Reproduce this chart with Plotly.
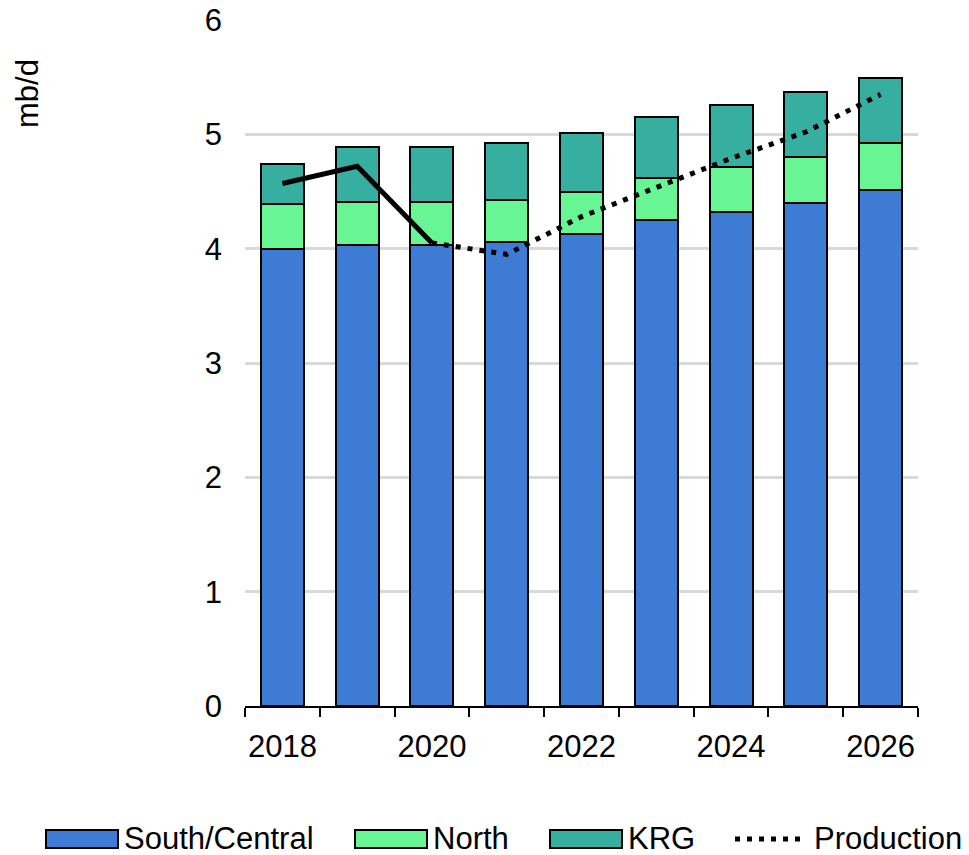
import plotly.graph_objects as go

# ---- data ----
years = [2018, 2019, 2020, 2021, 2022, 2023, 2024, 2025, 2026]
south_central = [4.00, 4.03, 4.03, 4.06, 4.13, 4.25, 4.32, 4.40, 4.51]
north = [0.39, 0.38, 0.38, 0.37, 0.37, 0.37, 0.39, 0.40, 0.41]
krg = [0.35, 0.48, 0.48, 0.49, 0.51, 0.53, 0.55, 0.57, 0.57]
production = [4.57, 4.72, 4.05, 3.95, 4.28, 4.53, 4.79, 5.02, 5.35]
actual_last_index = 2  # production is actual up to 2020, forecast afterwards
tick_years = [2018, 2020, 2022, 2024, 2026]
y_ticks = [0, 1, 2, 3, 4, 5, 6]

series_names = ["South/Central", "North", "KRG", "Production"]
colors = ["#3E7BD5", "#68F594", "#37AFA0"]

FONT = "Liberation Sans, Arial, sans-serif"
FS = 31

fig = go.Figure()
for name, vals, col in zip(series_names[:3], [south_central, north, krg], colors):
    fig.add_trace(go.Bar(
        x=years, y=vals, name=name, width=0.575,
        marker=dict(color=col, line=dict(color="black", width=2)),
        showlegend=False,
    ))

fig.add_trace(go.Scatter(
    x=years[:actual_last_index + 1], y=production[:actual_last_index + 1],
    mode="lines", line=dict(color="black", width=5), showlegend=False,
    name="Production (actual)",
))
fig.add_trace(go.Scatter(
    x=years[actual_last_index:], y=production[actual_last_index:],
    mode="lines", line=dict(color="black", width=5, dash="5px,7px"),
    showlegend=False, name=series_names[3],
))

# plot area geometry in pixels (for converting legend placement)
L, R, T, B = 245, 918, 20, 706
W, H = R - L, B - T


def px(x):
    return (x - L) / W


def py(y):
    return (B - y) / H


shapes = []
annotations = []
legend_y = 839
swatch_x = [46, 355, 550]
for i, (name, col) in enumerate(zip(series_names[:3], colors)):
    x0 = swatch_x[i]
    shapes.append(dict(type="rect", xref="paper", yref="paper",
                       x0=px(x0), x1=px(x0 + 72), y0=py(legend_y + 9), y1=py(legend_y - 9),
                       fillcolor=col, line=dict(color="black", width=2)))
    annotations.append(dict(text=name, xref="paper", yref="paper",
                            x=px(x0 + 76), y=py(legend_y), xanchor="left", yanchor="middle",
                            showarrow=False, font=dict(family=FONT, size=FS, color="black")))
shapes.append(dict(type="line", xref="paper", yref="paper",
                   x0=px(735), x1=px(805), y0=py(legend_y), y1=py(legend_y),
                   line=dict(color="black", width=5, dash="5px,7px")))
annotations.append(dict(text=series_names[3], xref="paper", yref="paper",
                        x=px(812), y=py(legend_y), xanchor="left", yanchor="middle",
                        showarrow=False, font=dict(family=FONT, size=FS, color="black")))
annotations.append(dict(text="mb/d", xref="paper", yref="paper", textangle=-90,
                        x=px(28), y=py(94), xanchor="center", yanchor="middle",
                        showarrow=False, font=dict(family=FONT, size=FS, color="black")))

fig.update_layout(
    barmode="stack",
    width=969, height=855, autosize=False,
    margin=dict(l=L, r=969 - R, t=T, b=855 - B, pad=0, autoexpand=False),
    paper_bgcolor="white", plot_bgcolor="white",
    font=dict(family=FONT, size=FS, color="black"),
    showlegend=False,
    shapes=shapes, annotations=annotations,
    xaxis=dict(
        range=[2017.5, 2026.5], tickmode="array", tickvals=tick_years,
        ticks="", showgrid=False, zeroline=False, automargin=False,
        showline=True, linecolor="black", linewidth=2,
        ticklabelstandoff=12,
        minor=dict(tick0=2017.5, dtick=1, ticks="outside", ticklen=9,
                   tickwidth=2, tickcolor="black", showgrid=False),
        tickfont=dict(family=FONT, size=FS, color="black"),
    ),
    yaxis=dict(
        range=[0, 6], tickmode="array", tickvals=y_ticks,
        showgrid=True, gridcolor="#D9D9D9", gridwidth=3,
        zeroline=False, showline=False, ticks="", automargin=False,
        ticklabelstandoff=22,
        tickfont=dict(family=FONT, size=FS, color="black"),
    ),
)

fig.write_html(
    "out.html",
    config={"responsive": False, "displayModeBar": False},
    post_script="document.body.style.margin='0';document.body.style.overflow='hidden';",
)
